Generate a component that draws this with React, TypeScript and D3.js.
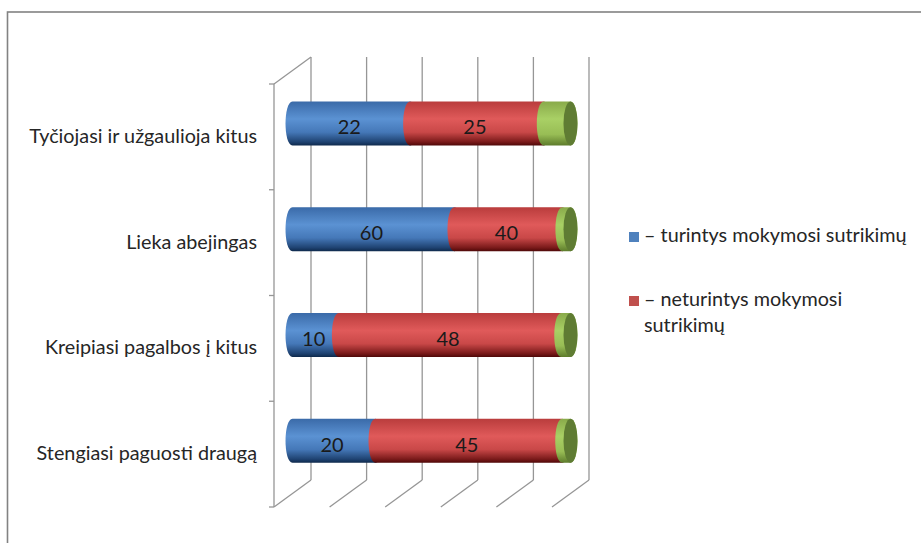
import React, { useEffect, useRef } from 'react';
import * as d3 from 'd3';

const categories = [
  'Tyčiojasi ir užgaulioja kitus',
  'Lieka abejingas',
  'Kreipiasi pagalbos į kitus',
  'Stengiasi paguosti draugą',
];
const turintys = [22, 60, 10, 20];
const neturintys = [25, 40, 48, 45];
const kita = [5, 3, 2, 2];
const seriesKeys = ['turintys', 'neturintys', 'kita'];
const legendItems = [
  { key: 'turintys', lines: ['– turintys mokymosi sutrikimų'] },
  { key: 'neturintys', lines: ['– neturintys mokymosi', 'sutrikimų'] },
];
const xTicks = [0, 0.2, 0.4, 0.6, 0.8, 1];

const FONT = 'Lato, "Open Sans", sans-serif';

const App: React.FC = () => {
  const svgRef = useRef<SVGSVGElement>(null);

  useEffect(() => {
    if (!svgRef.current) return;
    const svg = d3.select(svgRef.current);
    svg.selectAll('*').remove();

    const width = 921;
    const height = 543;
    const front = { left: 274, right: 552, top: 84, bottom: 507 };
    const depth = { dx: 37, dy: -27 };

    const rows = categories.map((c, i) => ({
      category: c,
      turintys: turintys[i],
      neturintys: neturintys[i],
      kita: kita[i],
    }));

    const stacked = d3.stack<any>().keys(seriesKeys).offset(d3.stackOffsetExpand)(rows);

    const xScale = d3.scaleLinear().domain([0, 1]).range([front.left, front.right]);
    const yScale = d3.scaleBand().domain(categories).range([front.top, front.bottom]);

    // frame
    svg.append('rect')
      .attr('x', 7.5).attr('y', 12)
      .attr('width', width + 20).attr('height', height + 20)
      .attr('fill', '#fff')
      .attr('stroke', '#828282')
      .attr('stroke-width', 1.6);

    const defs = svg.append('defs');
    const gradients: Record<string, [number, string][]> = {
      turintys: [[0, '#3a6aa8'], [0.4, '#5b92d3'], [0.7, '#4578b8'], [0.92, '#1f4372'], [1, '#0f2a4d']],
      neturintys: [[0, '#b93c3c'], [0.4, '#e05a5a'], [0.7, '#c94848'], [0.92, '#7a1a1a'], [1, '#500808']],
      kita: [[0, '#89aa4a'], [0.4, '#a9d065'], [0.75, '#98bd55'], [1, '#5e7c2c']],
    };
    Object.entries(gradients).forEach(([key, stops]) => {
      const lg = defs.append('linearGradient')
        .attr('id', `grad-${key}`)
        .attr('x1', 0).attr('y1', 0).attr('x2', 0).attr('y2', 1);
      stops.forEach(([o, c]) => lg.append('stop').attr('offset', o).attr('stop-color', c));
    });

    const grid = svg.append('g')
      .attr('stroke', '#969696')
      .attr('stroke-width', 1.3)
      .attr('fill', 'none');

    // back wall verticals + floor diagonals
    xTicks.forEach(t => {
      grid.append('line')
        .attr('x1', xScale(t) + depth.dx).attr('y1', front.top + depth.dy)
        .attr('x2', xScale(t) + depth.dx).attr('y2', front.bottom + depth.dy);
      grid.append('line')
        .attr('x1', xScale(t)).attr('y1', front.bottom)
        .attr('x2', xScale(t) + depth.dx).attr('y2', front.bottom + depth.dy);
    });

    // left wall
    grid.append('line')
      .attr('x1', front.left).attr('y1', front.top)
      .attr('x2', front.left).attr('y2', front.bottom);
    grid.append('line')
      .attr('x1', front.left).attr('y1', front.top)
      .attr('x2', front.left + depth.dx).attr('y2', front.top + depth.dy);

    // category ticks
    const bounds = categories.map(c => yScale(c)!).concat([front.bottom]);
    bounds.forEach(y => {
      grid.append('line')
        .attr('x1', front.left - 5).attr('y1', y)
        .attr('x2', front.left).attr('y2', y);
    });

    // category labels
    categories.forEach(c => {
      svg.append('text')
        .attr('x', front.left - 17)
        .attr('y', yScale(c)! + yScale.bandwidth() / 2 + 1)
        .attr('text-anchor', 'end')
        .attr('dominant-baseline', 'middle')
        .attr('font-family', FONT)
        .attr('font-size', 19.8)
        .attr('fill', '#262626')
        .text(c);
    });

    // cylinders
    const barH = 44;
    const rx = 7;
    const ry = barH / 2;
    const bars = svg.append('g');

    categories.forEach((c, i) => {
      const cy = yScale(c)! + yScale.bandwidth() / 2 + depth.dy / 2;
      const top = cy - ry;
      const bottom = cy + ry;
      stacked.forEach((s, si) => {
        const x0 = xScale(s[i][0]) + depth.dx / 2;
        const x1 = xScale(s[i][1]) + depth.dx / 2;
        const p = d3.path();
        p.moveTo(x0, top);
        p.lineTo(x1, top);
        p.bezierCurveTo(x1 + rx * 1.33, top, x1 + rx * 1.33, bottom, x1, bottom);
        p.lineTo(x0, bottom);
        p.bezierCurveTo(x0 - rx * 1.33, bottom, x0 - rx * 1.33, top, x0, top);
        p.closePath();
        bars.append('path')
          .attr('d', p.toString())
          .attr('fill', `url(#grad-${s.key})`);
        if (si === stacked.length - 1) {
          bars.append('ellipse')
            .attr('cx', x1).attr('cy', cy)
            .attr('rx', rx).attr('ry', ry)
            .attr('fill', '#5f7c33');
        }
      });

      // value labels
      stacked.slice(0, 2).forEach(s => {
        const x0 = xScale(s[i][0]) + depth.dx / 2;
        const x1 = xScale(s[i][1]) + depth.dx / 2;
        bars.append('text')
          .attr('x', (x0 + x1) / 2 - 2)
          .attr('y', cy + 6)
          .attr('text-anchor', 'middle')
          .attr('dominant-baseline', 'middle')
          .attr('font-family', FONT)
          .attr('font-size', 20)
          .attr('fill', '#1a1a1a')
          .text(String((s[i].data as any)[s.key]));
      });
    });

    // legend
    const colors: Record<string, string> = { turintys: '#4f81bd', neturintys: '#c0504d' };
    const legendY = [237, 301];
    legendItems.forEach((item, i) => {
      svg.append('rect')
        .attr('x', 629).attr('y', legendY[i] - 5)
        .attr('width', 10).attr('height', 10)
        .attr('fill', colors[item.key]);
      item.lines.forEach((line, li) => {
        svg.append('text')
          .attr('x', 644)
          .attr('y', legendY[i] + li * 26)
          .attr('dominant-baseline', 'middle')
          .attr('font-family', FONT)
          .attr('font-size', 19.8)
          .attr('fill', '#262626')
          .text(line);
      });
    });
  }, []);

  return (
    <svg
      ref={svgRef}
      width={921}
      height={543}
      style={{ position: 'absolute', left: 0, top: 0, display: 'block' }}
    />
  );
};

export default App;
